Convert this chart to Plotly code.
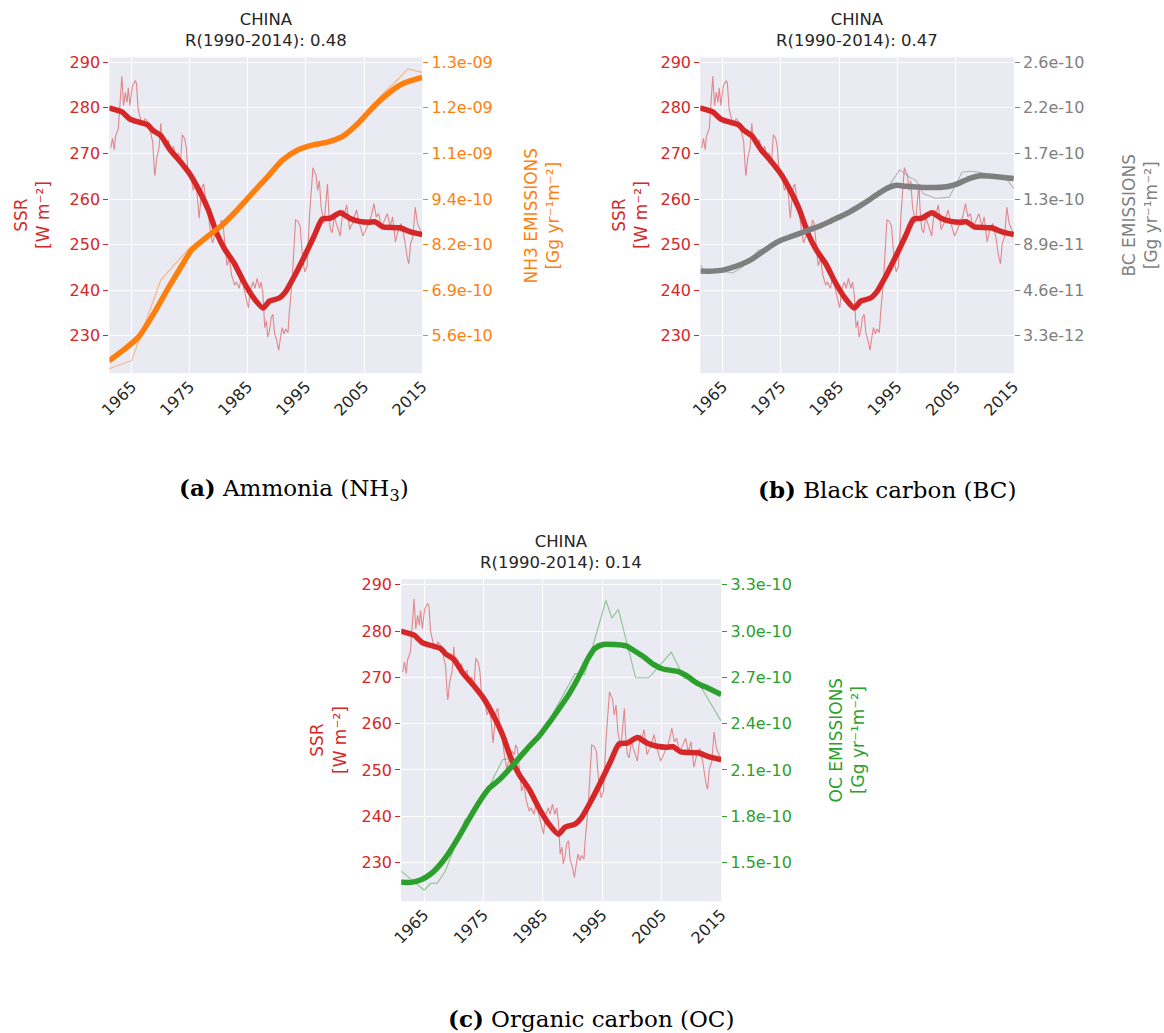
import plotly.graph_objects as go

# ---------------- data ----------------
# Surface solar radiation, China (W m-2): noisy series and smoothed series
SSR_RAW = [
    (1961.4, 271.2), (1961.7, 273.3), (1962.0, 270.8), (1962.2, 273.7), (1962.7, 275.5),
    (1963.1, 283.4), (1963.3, 286.9), (1963.6, 280.5), (1963.9, 283.4), (1964.2, 281.2),
    (1964.4, 284.4), (1964.7, 280.5), (1965.1, 284.8), (1965.6, 285.9), (1965.8, 285.5),
    (1966.1, 279.8), (1966.5, 277.6), (1966.9, 276.2), (1967.3, 277.6), (1967.8, 276.9),
    (1968.3, 274.4), (1968.6, 272.6), (1968.9, 266.2), (1969.0, 265.1), (1969.3, 269.0),
    (1969.7, 271.2), (1970.0, 276.6), (1970.2, 273.3), (1970.6, 271.9), (1971.0, 271.6),
    (1971.3, 273.0), (1971.7, 270.1), (1972.2, 271.6), (1972.6, 269.0), (1973.0, 270.1),
    (1973.4, 268.3), (1973.7, 274.1), (1974.1, 273.3), (1974.4, 271.2), (1974.7, 265.5),
    (1975.2, 264.8), (1975.6, 261.9), (1976.0, 263.3), (1976.3, 260.5), (1976.6, 255.8),
    (1977.1, 262.6), (1977.4, 263.3), (1977.8, 259.0), (1978.1, 257.6), (1978.5, 253.3),
    (1978.9, 250.4), (1979.3, 251.9), (1979.8, 254.0), (1980.2, 253.3), (1980.4, 255.4),
    (1980.7, 254.7), (1981.0, 250.4), (1981.4, 245.4), (1981.8, 246.9), (1982.2, 243.3),
    (1982.7, 241.1), (1983.0, 241.8), (1983.5, 240.4), (1983.9, 243.3), (1984.3, 240.4),
    (1984.8, 237.6), (1985.1, 236.1), (1985.4, 240.0), (1985.9, 241.8), (1986.2, 240.4),
    (1986.6, 242.6), (1987.0, 240.4), (1987.3, 241.8), (1987.6, 239.0), (1987.9, 231.8),
    (1988.2, 233.3), (1988.4, 229.7), (1988.7, 231.1), (1989.0, 234.0), (1989.3, 234.7),
    (1989.6, 230.4), (1989.9, 229.3), (1990.3, 226.8), (1990.7, 230.4), (1990.9, 231.8),
    (1991.2, 230.4), (1991.5, 231.5), (1991.9, 230.7), (1992.1, 234.7), (1992.6, 241.8),
    (1993.0, 250.4), (1993.2, 255.4), (1993.6, 255.1), (1994.0, 254.0), (1994.2, 250.4),
    (1994.5, 246.1), (1994.8, 244.0), (1995.2, 245.4), (1995.6, 256.2), (1995.9, 261.9),
    (1996.2, 266.9), (1996.5, 265.8), (1996.7, 265.5), (1997.0, 261.9), (1997.3, 264.0),
    (1997.6, 258.3), (1997.8, 256.9), (1998.1, 254.7), (1998.4, 259.0), (1998.7, 263.3),
    (1998.9, 257.6), (1999.2, 253.3), (1999.5, 252.6), (1999.9, 256.2), (2000.2, 254.7),
    (2000.6, 253.3), (2000.9, 251.9), (2001.1, 254.7), (2001.4, 257.6), (2001.7, 256.9),
    (2002.0, 258.7), (2002.2, 256.9), (2002.5, 253.3), (2003.0, 254.7), (2003.3, 256.2),
    (2003.7, 257.6), (2004.1, 255.1), (2004.4, 253.7), (2004.8, 251.9), (2005.3, 253.3),
    (2005.7, 254.7), (2006.2, 256.1), (2006.7, 259.0), (2007.1, 256.1), (2007.5, 256.8),
    (2008.0, 253.9), (2008.5, 255.3), (2009.0, 256.8), (2009.5, 253.9), (2009.9, 256.1),
    (2010.4, 250.6), (2011.0, 253.9), (2011.4, 254.6), (2011.9, 251.7), (2012.4, 247.3),
    (2012.7, 245.8), (2013.0, 250.2), (2013.4, 251.7), (2013.8, 258.2), (2014.2, 254.6),
    (2014.7, 253.1), (2015.0, 252.4),
]
SSR_SMOOTH_YEARS = [1961.1, 1963.3, 1964.7, 1966.1, 1967.8, 1968.6, 1970.0, 1971.6, 1973.3,
                    1975.0, 1976.6, 1978.2, 1979.6, 1981.0, 1982.7, 1984.3, 1986.0, 1987.6,
                    1988.7, 1990.4, 1991.5, 1993.1, 1994.8, 1996.4, 1997.8, 1999.2, 2000.9,
                    2002.5, 2004.2, 2005.8, 2006.9, 2008.2, 2011.1, 2013.0, 2015.0]
SSR_SMOOTH = [280.0, 279.1, 277.5, 276.9, 276.2, 275.1, 273.9, 270.8, 268.3,
              265.5, 261.9, 257.6, 252.6, 249.0, 245.8, 241.8, 238.3, 236.1,
              237.6, 238.3, 239.7, 243.3, 247.6, 251.9, 255.6, 255.8, 257.0,
              255.8, 255.1, 254.9, 255.0, 253.9, 253.7, 252.8, 252.2]

# NH3 emissions (Gg yr-1 m-2)
NH3_RAW_YEARS = [1961.1, 1964.0, 1965.0, 1970.0, 1975.0, 1980.0, 1985.0, 1990.0, 1995.0,
                 2000.0, 2002.0, 2005.0, 2008.0, 2011.0, 2012.5, 2015.0]
NH3_RAW = [4.73e-10, 4.91e-10, 4.96e-10, 7.18e-10, 8.08e-10, 8.66e-10, 9.46e-10, 10.40e-10,
           10.88e-10, 11.06e-10, 11.18e-10, 11.73e-10, 12.29e-10, 12.75e-10, 13.02e-10, 12.92e-10]
NH3_SMOOTH_YEARS = [1961.1, 1963.6, 1966.2, 1968.8, 1971.4, 1974.0, 1975.3, 1977.9, 1980.5,
                    1983.1, 1985.7, 1988.3, 1990.9, 1993.5, 1996.1, 1998.7, 2001.3, 2003.9,
                    2006.5, 2009.1, 2011.7, 2015.0]
NH3_SMOOTH = [4.95e-10, 5.25e-10, 5.61e-10, 6.26e-10, 6.99e-10, 7.68e-10, 8.01e-10, 8.37e-10,
              8.69e-10, 9.11e-10, 9.57e-10, 10.02e-10, 10.49e-10, 10.77e-10, 10.91e-10,
              10.99e-10, 11.15e-10, 11.50e-10, 11.95e-10, 12.33e-10, 12.61e-10, 12.78e-10]

# BC emissions
BC_RAW_YEARS = [1961.2, 1961.9, 1965.0, 1966.7, 1968.4, 1971.2, 1972.9, 1975.1, 1977.4,
                1980.2, 1985.3, 1990.4, 1993.2, 1995.4, 1997.1, 1998.2, 1999.4, 2001.6,
                2003.9, 2006.1, 2007.3, 2008.9, 2011.2, 2013.5, 2015.0]
BC_RAW = [6.97e-11, 6.41e-11, 6.41e-11, 6.24e-11, 6.80e-11, 8.39e-11, 8.60e-11, 9.46e-11,
          9.93e-11, 10.36e-11, 11.69e-11, 13.36e-11, 14.17e-11, 15.93e-11, 15.24e-11,
          14.94e-11, 13.70e-11, 13.23e-11, 13.36e-11, 15.71e-11, 15.80e-11, 15.71e-11,
          15.46e-11, 15.24e-11, 14.17e-11]
BC_SMOOTH_YEARS = [1961.2, 1963.3, 1965.0, 1966.7, 1968.4, 1970.1, 1971.8, 1973.5, 1975.1,
                   1976.8, 1978.5, 1980.2, 1981.9, 1983.6, 1985.3, 1987.0, 1988.7, 1990.4,
                   1992.0, 1993.7, 1994.9, 1996.5, 1998.8, 2001.6, 2003.9, 2005.6, 2007.3,
                   2009.2, 2011.2, 2015.0]
BC_SMOOTH = [6.41e-11, 6.41e-11, 6.50e-11, 6.76e-11, 7.10e-11, 7.57e-11, 8.21e-11, 8.86e-11,
             9.33e-11, 9.67e-11, 10.01e-11, 10.36e-11, 10.70e-11, 11.13e-11, 11.56e-11,
             12.03e-11, 12.59e-11, 13.19e-11, 13.79e-11, 14.30e-11, 14.47e-11, 14.38e-11,
             14.30e-11, 14.26e-11, 14.38e-11, 14.68e-11, 15.11e-11, 15.37e-11, 15.33e-11,
             15.11e-11]

# OC emissions
OC_RAW_YEARS = [1961.1, 1965.0, 1966.1, 1967.2, 1968.6, 1971.9, 1973.3, 1975.0, 1978.2,
                1979.3, 1980.4, 1983.0, 1986.0, 1990.4, 1992.0, 1995.6, 1996.6, 1997.7,
                2000.6, 2002.8, 2006.6, 2008.8, 2011.0, 2015.0]
OC_RAW = [1.446e-10, 1.320e-10, 1.365e-10, 1.365e-10, 1.446e-10, 1.779e-10, 1.803e-10,
          1.920e-10, 2.166e-10, 2.172e-10, 2.145e-10, 2.274e-10, 2.418e-10, 2.724e-10,
          2.718e-10, 3.198e-10, 3.084e-10, 3.141e-10, 2.697e-10, 2.697e-10, 2.862e-10,
          2.694e-10, 2.676e-10, 2.415e-10]
OC_SMOOTH_YEARS = [1961.1, 1962.8, 1964.4, 1966.1, 1967.8, 1969.4, 1971.1, 1972.7, 1974.4,
                   1976.0, 1977.7, 1979.3, 1981.0, 1982.7, 1984.3, 1986.0, 1987.6, 1989.3,
                   1990.9, 1992.6, 1993.7, 1995.1, 1997.0, 1999.0, 2000.3, 2002.0, 2003.6,
                   2005.2, 2007.9, 2009.1, 2011.0, 2012.9, 2015.0]
OC_SMOOTH = [1.371e-10, 1.371e-10, 1.386e-10, 1.425e-10, 1.491e-10, 1.575e-10, 1.683e-10,
             1.791e-10, 1.899e-10, 1.983e-10, 2.037e-10, 2.103e-10, 2.178e-10, 2.253e-10,
             2.316e-10, 2.403e-10, 2.490e-10, 2.586e-10, 2.694e-10, 2.823e-10, 2.886e-10,
             2.913e-10, 2.913e-10, 2.904e-10, 2.874e-10, 2.832e-10, 2.784e-10, 2.754e-10,
             2.736e-10, 2.712e-10, 2.661e-10, 2.628e-10, 2.589e-10]

# axis ticks
X_TICKS = [1965, 1975, 1985, 1995, 2005, 2015]
SSR_TICKS = [230, 240, 250, 260, 270, 280, 290]
NH3_TICK_VALUES = [5.64e-10, 6.90e-10, 8.16e-10, 9.42e-10, 10.68e-10, 11.94e-10, 13.20e-10]
NH3_TICK_LABELS = ["5.6e-10", "6.9e-10", "8.2e-10", "9.4e-10", "1.1e-09", "1.2e-09", "1.3e-09"]
BC_TICK_VALUES = [0.330e-11, 4.615e-11, 8.90e-11, 13.185e-11, 17.47e-11, 21.755e-11, 26.04e-11]
BC_TICK_LABELS = ["3.3e-12", "4.6e-11", "8.9e-11", "1.3e-10", "1.7e-10", "2.2e-10", "2.6e-10"]
OC_TICK_VALUES = [1.5e-10, 1.8e-10, 2.1e-10, 2.4e-10, 2.7e-10, 3.0e-10, 3.3e-10]
OC_TICK_LABELS = ["1.5e-10", "1.8e-10", "2.1e-10", "2.4e-10", "2.7e-10", "3.0e-10", "3.3e-10"]

R_VALUES = ["0.48", "0.47", "0.14"]
CAPTIONS = [("(a)", "Ammonia (NH<sub>3</sub>)"), ("(b)", "Black carbon (BC)"),
            ("(c)", "Organic carbon (OC)")]
EMIS_NAMES = ["NH3", "BC", "OC"]

# ---------------- style ----------------
W, H = 1164, 1033
RED = "#d62728"
RED_T = "rgba(214,39,40,0.5)"
EMIS_COL = ["#ff7f0e", "#7f7f7f", "#2ca02c"]
EMIS_COL_T = ["rgba(255,127,14,0.5)", "rgba(127,127,127,0.5)", "rgba(44,160,44,0.5)"]
TXT = "#262626"
BG = "#EAEAF2"
FONT = "DejaVu Sans"
XRANGE = [1961.15, 2015]

# panel boxes in pixels: left, right, top, bottom
PANELS = [
    dict(l=100, r=418, t=52.7, b=370, yr=[221.8, 291.05]),
    dict(l=700.7, r=1019.5, t=52.7, b=370, yr=[221.8, 291.05]),
    dict(l=396.7, r=722, t=577, b=900.7, yr=[221.6, 291.2]),
]
EMIS = [
    (NH3_RAW_YEARS, NH3_RAW, NH3_SMOOTH_YEARS, NH3_SMOOTH, NH3_TICK_VALUES, NH3_TICK_LABELS),
    (BC_RAW_YEARS, BC_RAW, BC_SMOOTH_YEARS, BC_SMOOTH, BC_TICK_VALUES, BC_TICK_LABELS),
    (OC_RAW_YEARS, OC_RAW, OC_SMOOTH_YEARS, OC_SMOOTH, OC_TICK_VALUES, OC_TICK_LABELS),
]
CAPTION_POS = [(288, 487), (891, 487), (590, 1018)]
LEFT_TITLE_X = [22, 630, 323]
RIGHT_TITLE_X = [540, 1148, 850]

ssr_x = [p[0] for p in SSR_RAW]
ssr_y = [p[1] for p in SSR_RAW]

fig = go.Figure()
layout = dict(
    width=W, height=H, margin=dict(l=0, r=0, t=0, b=0),
    paper_bgcolor="white", plot_bgcolor=BG, showlegend=False,
    font=dict(family=FONT, color=TXT, size=16),
)
annotations = []

for i, p in enumerate(PANELS):
    xn = "x" if i == 0 else f"x{i+1}"
    yl_idx = 2 * i + 1
    yr_idx = 2 * i + 2
    yl = "y" if yl_idx == 1 else f"y{yl_idx}"
    yrn = f"y{yr_idx}"
    xdom = [p["l"] / W, p["r"] / W]
    ydom = [1 - p["b"] / H, 1 - p["t"] / H]

    layout["xaxis" if i == 0 else f"xaxis{i+1}"] = dict(
        domain=xdom, range=XRANGE, anchor=yl, tickvals=X_TICKS, tickangle=-45,
        showgrid=True, gridcolor="white", gridwidth=1.2, zeroline=False, showline=False,
        ticks="", tickfont=dict(size=16, color=TXT, family=FONT),
    )
    layout["yaxis" if yl_idx == 1 else f"yaxis{yl_idx}"] = dict(
        domain=ydom, range=p["yr"], anchor=xn, side="left", tickvals=SSR_TICKS,
        showgrid=True, gridcolor="white", gridwidth=1.2, zeroline=False, showline=False,
        ticks="outside", ticklen=5, tickwidth=1.3, tickcolor=RED,
        tickfont=dict(size=16, color=RED, family=FONT),
    )
    ryv, ryl_, rsy, rs, tv, tl = EMIS[i]
    # right axis aligned to the left ticks: 230 -> first tick, 290 -> last tick
    step = (tv[-1] - tv[0]) / (SSR_TICKS[-1] - SSR_TICKS[0])
    rrange = [tv[0] + (v - SSR_TICKS[0]) * step for v in p["yr"]]
    layout[f"yaxis{yr_idx}"] = dict(
        domain=ydom, range=rrange, anchor=xn, overlaying=yl, side="right",
        tickvals=tv, ticktext=tl, showgrid=False, zeroline=False, showline=False,
        ticks="outside", ticklen=5, tickwidth=1.3, tickcolor=EMIS_COL[i],
        tickfont=dict(size=16, color=EMIS_COL[i], family=FONT),
    )

    # SSR lines
    fig.add_trace(go.Scatter(x=ssr_x, y=ssr_y, xaxis=xn, yaxis=yl, mode="lines",
                             line=dict(color=RED_T, width=1.1), hoverinfo="skip"))
    fig.add_trace(go.Scatter(x=SSR_SMOOTH_YEARS, y=SSR_SMOOTH, xaxis=xn, yaxis=yl,
                             mode="lines", line=dict(color=RED, width=5.5, shape="spline",
                                                     smoothing=0.6)))
    # emission lines
    fig.add_trace(go.Scatter(x=ryv, y=ryl_, xaxis=xn, yaxis=yrn, mode="lines",
                             line=dict(color=EMIS_COL_T[i], width=1.1), hoverinfo="skip"))
    fig.add_trace(go.Scatter(x=rsy, y=rs, xaxis=xn, yaxis=yrn, mode="lines",
                             line=dict(color=EMIS_COL[i], width=5.5, shape="spline",
                                       smoothing=0.6)))

    cx = (p["l"] + p["r"]) / 2 / W
    annotations.append(dict(
        x=cx, y=1 - (p["t"] - 5) / H, xref="paper", yref="paper", xanchor="center",
        yanchor="bottom", showarrow=False, align="center",
        text=f"CHINA<br>R(1990-2014): {R_VALUES[i]}",
        font=dict(size=16.5, color=TXT, family=FONT)))
    ymid = 1 - (p["t"] + p["b"]) / 2 / H
    annotations.append(dict(
        x=LEFT_TITLE_X[i] / W, y=ymid, xref="paper", yref="paper", xanchor="center",
        yanchor="middle", showarrow=False, textangle=-90, align="center",
        text="SSR<br>[W m⁻²]", font=dict(size=17, color=RED, family=FONT)))
    annotations.append(dict(
        x=RIGHT_TITLE_X[i] / W, y=ymid, xref="paper", yref="paper", xanchor="center",
        yanchor="middle", showarrow=False, textangle=-90, align="center",
        text=f"{EMIS_NAMES[i]} EMISSIONS<br>[Gg yr⁻¹m⁻²]",
        font=dict(size=17, color=EMIS_COL[i], family=FONT)))
    lab, rest = CAPTIONS[i]
    annotations.append(dict(
        x=CAPTION_POS[i][0] / W, y=1 - CAPTION_POS[i][1] / H, xref="paper", yref="paper",
        xanchor="center", yanchor="middle", showarrow=False,
        text=f"<b>{lab}</b> {rest}",
        font=dict(size=23, color="black", family="DejaVu Serif")))

layout["annotations"] = annotations
fig.update_layout(**layout)
fig.write_html("out.html", config=dict(displayModeBar=False),
               post_script="document.body.style.margin='0';document.body.style.overflow='hidden';")
